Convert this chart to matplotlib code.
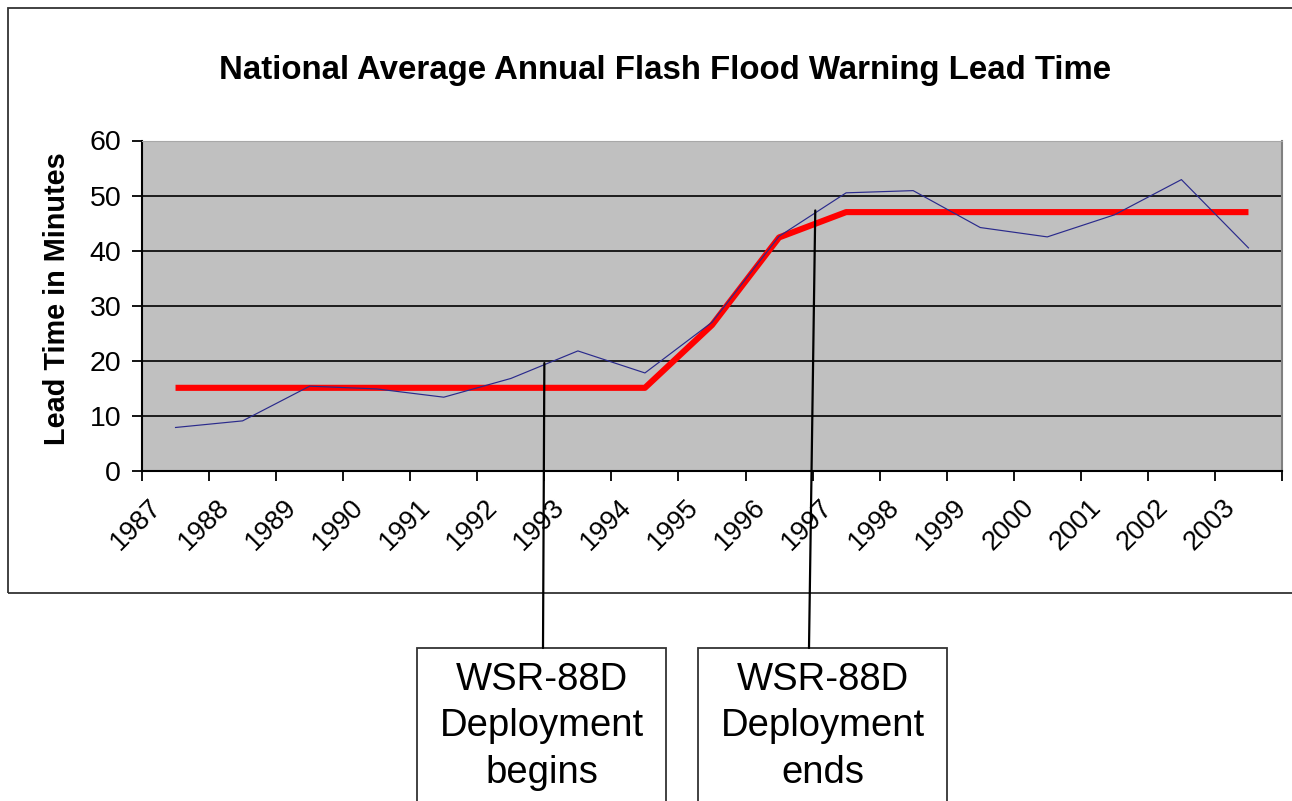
import matplotlib.pyplot as plt
import matplotlib.patches as patches
from matplotlib.patches import ConnectionPatch
import numpy as np

plt.rcParams['font.family'] = ['Liberation Sans', 'DejaVu Sans']

# yearly values
years = ['1987', '1988', '1989', '1990', '1991', '1992', '1993', '1994', '1995',
         '1996', '1997', '1998', '1999', '2000', '2001', '2002', '2003']
lead_time = [7.9, 9.1, 15.4, 14.9, 13.4, 16.8, 21.8, 17.8, 27.0,
             42.6, 50.5, 50.9, 44.2, 42.5, 46.5, 52.9, 40.5]
trend = [15.1, 15.1, 15.1, 15.1, 15.1, 15.1, 15.1, 15.1, 26.5,
         42.4, 47.0, 47.0, 47.0, 47.0, 47.0, 47.0, 47.0]
y_ticks = [0, 10, 20, 30, 40, 50, 60]

W, H = 1292, 801
fig = plt.figure(figsize=(W / 100, H / 100), dpi=100)

# pixel box -> figure fraction
def fx(px):
    return px / W
def fy(py):
    return 1 - py / H

# outer chart frame (runs off the right edge)
frame = patches.Rectangle((fx(8), fy(593)), 1.1, (593 - 8) / H, transform=fig.transFigure,
                          fill=False, edgecolor='#333333', linewidth=1.3, clip_on=False)
fig.patches.append(frame)

ax = fig.add_axes([fx(142), fy(471), (1282 - 142) / W, (471 - 140.5) / H])
ax.set_facecolor('#c0c0c0')

x = np.arange(len(years))
ax.plot(x, lead_time, color='#2a2a8c', linewidth=0.85, zorder=3)
ax.plot(x, trend, color='#ff0000', linewidth=4.4, solid_capstyle='butt', zorder=2)

ax.set_xlim(-0.5, len(years) - 0.5)
ax.set_ylim(0, 60)
ax.set_yticks(y_ticks)
ax.set_yticklabels([str(v) for v in y_ticks], fontsize=20.5)
for v in y_ticks[1:-1]:
    ax.axhline(v, color='black', linewidth=1.2, zorder=1)

ax.set_xticks(np.arange(-0.5, len(years), 1.0))
ax.set_xticklabels([])
ax.tick_params(axis='x', length=7, width=1.3, direction='out')
ax.tick_params(axis='y', length=7, width=1.3, direction='out', pad=8)
for i, yr in enumerate(years):
    ax.text(i - 0.26, -0.098, yr, transform=ax.get_xaxis_transform(), rotation=45,
            rotation_mode='anchor', ha='right', va='center', fontsize=19.5)

ax.spines['left'].set_linewidth(1.5)
ax.spines['bottom'].set_linewidth(1.5)
ax.spines['top'].set_color('#a8a8a8')
ax.spines['right'].set_color('#808080')
ax.spines['right'].set_linewidth(1.5)

fig.text(fx(665), fy(70), 'National Average Annual Flash Flood Warning Lead Time',
         ha='center', va='center', fontsize=23.8, fontweight='bold')
fig.text(fx(57), fy(299), 'Lead Time in Minutes', rotation=90, ha='center', va='center',
         fontsize=20.8, fontweight='bold')

# annotation callouts
boxes = [
    (417, 666, (5.5, 19.6), 543, ['WSR-88D', 'Deployment', 'begins']),
    (698, 947, (9.54, 47.3), 809, ['WSR-88D', 'Deployment', 'ends']),
]
for left, right, pt, bx, lines in boxes:
    rect = patches.Rectangle((fx(left), fy(820)), (right - left) / W, (820 - 648) / H,
                             transform=fig.transFigure, fill=False, edgecolor='#333333',
                             linewidth=1.3, clip_on=False)
    fig.patches.append(rect)
    con = ConnectionPatch(xyA=pt, coordsA=ax.transData, xyB=(fx(bx), fy(648)),
                          coordsB=fig.transFigure, color='black', linewidth=1.6, zorder=5)
    fig.add_artist(con)
    cx = (left + right) / 2
    for k, s in enumerate(lines):
        fig.text(fx(cx), fy(690 + 46.5 * k), s, ha='center', va='baseline', fontsize=27.5)

fig.savefig('out.png', dpi=100)
